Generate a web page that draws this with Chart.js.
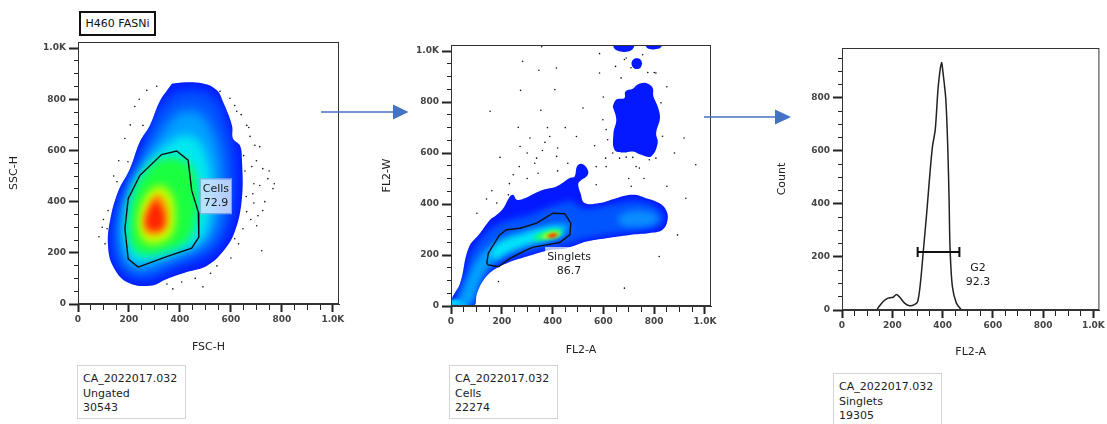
<!DOCTYPE html>
<html>
<head>
<meta charset="utf-8">
<script src="https://cdn.jsdelivr.net/npm/chart.js@4.4.1/dist/chart.umd.min.js"></script>
<style>
  body { margin:0; background:#fff; width:1107px; height:424px; overflow:hidden; position:relative; font-family:"DejaVu Sans", sans-serif; }
  canvas { position:absolute; }
  .info { position:absolute; width:109px; border:1px solid #d4d4d4; background:#fff; font-size:11px; line-height:14.5px; color:#222; padding:6px 0 0 5px; box-sizing:border-box; }
  .title { position:absolute; left:79px; top:11px; width:77px; height:25px; border:2px solid #111; box-sizing:border-box; font-size:11px; line-height:21px; text-align:center; color:#111; }
  svg { position:absolute; left:0; top:0; }
</style>
</head>
<body>
<div class="title">H460 FASNi</div>
<canvas id="c1" width="349" height="322" style="left:0px;top:32px"></canvas>
<canvas id="c2" width="351" height="322" style="left:370px;top:35px"></canvas>
<canvas id="c3" width="342" height="321" style="left:765px;top:38px"></canvas>
<div class="info" style="left:77px;top:365px;height:54px">CA_2022017.032<br>Ungated<br>30543</div>
<div class="info" style="left:449px;top:365px;height:54px">CA_2022017.032<br>Cells<br>22274</div>
<div class="info" style="left:833px;top:373px;height:56px">CA_2022017.032<br>Singlets<br>19305</div>
<svg width="1107" height="424">
  <line x1="321" y1="112" x2="395" y2="112" stroke="#4472c4" stroke-width="1.5"/>
  <polygon points="393,104.6 408.5,112 393,119.4" fill="#4472c4"/>
  <line x1="704" y1="117" x2="777" y2="117" stroke="#4472c4" stroke-width="1.5"/>
  <polygon points="775,109.5 791,117 775,124.5" fill="#4472c4"/>
</svg>
<script>
// ---- plot 1: FSC-H vs SSC-H (ungated), density levels outer -> core
const fscOuter = [[361,851],[372,862],[490,862],[545,835],[568,792],[604,698],[608,647],[635,620],[643,568],[643,412],[615,282],[568,204],[505,149],[427,125],[349,98],[282,71],[192,86],[137,149],[118,227],[125,321],[157,439],[204,529],[243,635],[282,698],[321,792]];
const fscL1 = [[380,830],[480,835],[550,790],[585,690],[610,600],[615,450],[590,300],[545,220],[470,170],[380,140],[290,100],[205,105],[150,160],[135,250],[145,340],[178,440],[225,540],[265,640],[305,745]];
const fscL2 = [[390,750],[470,750],[525,680],[555,580],[565,440],[545,310],[500,235],[420,195],[330,160],[250,130],[190,160],[165,250],[170,350],[200,450],[250,550],[315,655]];
const fscL3 = [[400,660],[460,650],[505,570],[522,450],[512,320],[472,240],[380,198],[290,172],[225,165],[190,225],[185,330],[205,430],[250,520],[325,605]];
const fscL4 = [[380,575],[440,545],[468,440],[462,320],[422,240],[340,205],[260,192],[210,228],[200,320],[215,420],[255,505],[318,565]];
const fscL5 = [[330,465],[368,428],[382,350],[368,272],[320,238],[268,238],[240,280],[240,360],[262,418],[296,455]];
const fscL6 = [[318,432],[346,396],[355,340],[345,290],[308,270],[268,276],[255,312],[262,360],[282,398],[300,424]];
const fscL7 = [[304,408],[326,376],[338,332],[328,296],[300,288],[274,298],[268,332],[279,362],[292,388]];
const cellsGate = [[236,144],[197,176],[184,294],[197,412],[243,503],[328,584],[387,598],[432,562],[446,444],[472,359],[474,261],[446,218],[348,185],[236,144]];
const fscDots = [[623,753],[662,698],[670,690],[694,620],[713,615],[650,580],[682,537],[725,529],[745,490],[713,463],[765,451],[686,431],[733,400],[662,361],[706,345],[647,294],[701,306],[615,255],[721,208],[545,149],[407,86],[372,59],[490,67],[349,78],[270,835],[223,772],[255,698],[184,647],[196,556],[153,478],[118,365],[114,294],[82,263],[106,235],[309,851],[557,831],[596,804],[615,776],[655,520],[690,470],[660,420],[640,740],[675,655],[700,560],[750,520],[770,470],[690,395],[725,365],[678,330],[630,235],[600,180],[520,120],[460,100],[240,800],[205,700],[160,560],[140,500],[100,330],[95,300]];

// ---- plot 2: FL2-A vs FL2-W (Cells)
const flOuter = [[0,0],[4,30],[36,89],[69,227],[115,286],[154,338],[180,358],[206,384],[232,430],[245,436],[259,417],[291,423],[324,439],[363,456],[415,469],[468,502],[487,508],[496,547],[513,558],[535,541],[539,515],[507,489],[501,476],[510,443],[526,404],[585,404],[651,423],[716,436],[768,423],[820,404],[847,377],[853,338],[833,299],[781,286],[703,279],[611,266],[533,253],[455,227],[389,220],[298,194],[220,168],[167,141],[128,102],[102,50],[89,0]];
const flL1 = [[5,0],[22,50],[55,130],[80,210],[120,265],[165,308],[230,338],[300,355],[370,382],[430,402],[470,412],[490,402],[520,382],[580,388],[650,402],[720,412],[790,398],[833,362],[835,330],[805,310],[740,297],[680,289],[600,277],[520,263],[445,238],[385,229],[300,206],[225,180],[175,155],[140,122],[115,82],[100,42],[80,0]];
const flL2 = [[20,0],[40,45],[70,120],[105,185],[150,232],[210,268],[290,292],[370,312],[440,325],[470,315],[455,290],[400,265],[330,245],[260,222],[200,196],[160,165],[140,140],[118,100],[102,60],[88,20],[68,0]];
const flL2b = [[650,345],[700,370],[770,372],[815,350],[805,325],[750,312],[680,315]];
const flL3 = [[155,200],[180,238],[225,262],[285,280],[345,298],[405,310],[440,302],[432,282],[385,266],[322,250],[262,230],[212,208],[178,185]];
const flL4 = [[320,268],[360,288],[410,300],[440,292],[425,276],[380,266],[340,258]];
const flL5 = [[355,273],[395,288],[428,288],[420,276],[390,268],[362,266]];
const flL6 = [[378,275],[402,284],[420,282],[410,272],[388,269]];
const flCorner = [[0,0],[0,22],[30,25],[55,20],[60,0]];
const flBlob = [[637,783],[651,810],[683,816],[687,842],[716,852],[735,869],[768,875],[794,856],[797,823],[814,783],[823,738],[808,679],[814,639],[788,587],[749,593],[716,606],[677,602],[644,613],[640,679],[651,731]];
const flSpot = [[753,951],[747,966],[732,972],[717,966],[711,951],[717,936],[732,930],[747,936]];
const flTopA = [[637,1040],[642,1012],[660,1000],[685,997],[708,1002],[720,1015],[724,1040]];
const flTopB = [[762,1040],[770,1015],[788,1007],[810,1008],[828,1016],[833,1040]];
const singletsGate = [[141,168],[147,207],[191,279],[219,299],[272,305],[337,325],[402,364],[448,362],[472,325],[468,279],[428,249],[376,240],[324,231],[298,220],[232,187],[187,154],[147,161],[141,168]];
const flDots = [[357,1017],[585,990],[282,960],[690,973],[755,986],[346,925],[415,934],[585,914],[670,895],[807,914],[274,846],[409,849],[154,764],[354,768],[520,777],[265,701],[389,665],[311,659],[494,665],[566,629],[370,642],[193,583],[272,626],[337,580],[416,587],[609,580],[269,547],[245,515],[343,521],[161,452],[226,436],[102,364],[180,404],[572,547],[572,476],[710,470],[925,423],[964,554],[918,659],[892,279],[820,194],[683,70],[187,96],[683,967],[709,935],[775,916],[801,916],[648,940],[598,731],[611,692],[617,652],[833,666],[827,797],[637,600],[664,580],[690,584],[716,583],[781,574],[807,580],[611,547],[729,547],[742,541],[850,860],[600,820],[300,600],[330,560],[360,610],[420,620],[450,700],[380,700],[300,500],[420,530],[460,560],[230,480],[140,420],[700,500],[760,500],[850,470],[880,600]];

// ---- plot 3: FL2-A histogram (Singlets)
const histX = [138,148,164,183,203,216,229,249,269,288,301,312,324,337,350,360,371,383,396,402,413,421,426,430,439,455,476];
const histY = [0,14,32,45,48,58,49,26,16,20,32,102,228,366,517,617,680,844,932,894,794,605,416,228,89,26,0];
const g2Range = [301, 467];
const g2Level = 219;

const pts = a => a.map(p => ({x: p[0], y: p[1]}));

Chart.defaults.font.family = "'DejaVu Sans', sans-serif";
Chart.defaults.color = '#3a3a3a';

function level(poly, color, blur, order, clipTo) {
  return { data: pts(poly.concat([poly[0]])), showLine: true, borderWidth: 0, pointRadius: 0,
           tension: 0.4, blobColor: color, blur: blur, order: order, clipTo: clipTo };
}
function gate(poly) {
  return { data: pts(poly), showLine: true, borderColor: '#111', borderWidth: 1.4, pointRadius: 0, tension: 0, order: 1 };
}
function dots(list) {
  return { data: pts(list), showLine: false, pointRadius: 0.8, pointBorderWidth: 0, backgroundColor: '#111', order: 0 };
}

// fills the smoothed polygon of a level dataset, blurred and kept inside its outer level
const blobFill = {
  id: 'blobFill',
  beforeDatasetDraw(chart, args) {
    const ds = chart.data.datasets[args.index];
    if (!ds.blobColor) return;
    const line = args.meta.dataset;
    const ctx = chart.ctx, a = chart.chartArea;
    line.updateControlPoints(a, 'x');
    ctx.save();
    ctx.beginPath();
    ctx.rect(a.left, a.top, a.right - a.left, a.bottom - a.top);
    ctx.clip();
    if (ds.clipTo !== undefined) {
      const outer = chart.getDatasetMeta(ds.clipTo).dataset;
      outer.updateControlPoints(a, 'x');
      ctx.beginPath();
      outer.path(ctx);
      ctx.closePath();
      ctx.clip();
    }
    ctx.filter = ds.blur ? 'blur(' + ds.blur + 'px)' : 'none';
    ctx.fillStyle = ds.blobColor;
    ctx.beginPath();
    line.path(ctx);
    ctx.closePath();
    ctx.fill();
    ctx.restore();
  }
};

const frame = {
  id: 'frame',
  afterDatasetsDraw(chart) {
    const {ctx, chartArea: a} = chart;
    ctx.save();
    ctx.strokeStyle = '#333';
    ctx.lineWidth = 1;
    ctx.strokeRect(a.left + 0.5, a.top + 0.5, a.right - a.left - 1, a.bottom - a.top - 1);
    ctx.restore();
  }
};

function gateText(items) {
  return {
    id: 'gateText',
    afterDatasetsDraw(chart) {
      const {ctx, scales: {x, y}} = chart;
      items.forEach(it => {
        const px = x.getPixelForValue(it.at[0]), py = y.getPixelForValue(it.at[1]);
        const lh = 14;
        ctx.save();
        ctx.font = "11px 'DejaVu Sans'";
        const w = Math.max(...it.lines.map(t => ctx.measureText(t).width));
        const h = lh * it.lines.length;
        if (it.bg) {
          ctx.fillStyle = it.bg;
          ctx.fillRect(px - w / 2 - 2, py - h / 2 - 3, w + 4, h + 6);
          if (it.edge) {
            ctx.strokeStyle = it.edge;
            ctx.strokeRect(px - w / 2 - 2.5, py - h / 2 - 3.5, w + 5, h + 7);
          }
        }
        ctx.fillStyle = '#1a1a1a';
        ctx.textAlign = 'center';
        ctx.textBaseline = 'middle';
        it.lines.forEach((t, i) => ctx.fillText(t, px, py - h / 2 + lh * (i + 0.5)));
        ctx.restore();
      });
    }
  };
}

const isMajor = c => c.tick && c.tick.value % 200 === 0;
function axis(max, title, size, pad, isY) {
  return {
    type: 'linear', min: 0, max: max,
    afterFit: s => { if (isY) s.width = size; else s.height = size; },
    ticks: {
      stepSize: 50, autoSkip: false, includeBounds: false, maxRotation: 0,
      padding: isY ? 3 : 2, color: '#444', font: {size: 9, weight: 'bold'},
      callback: v => v % 200 === 0 ? (v >= 1000 ? (v / 1000).toFixed(1) + 'K' : String(v)) : ''
    },
    grid: {
      drawOnChartArea: false, tickLength: isY ? 9 : 8, tickColor: '#222',
      tickWidth: c => isMajor(c) ? 2 : 1,
      tickBorderDash: c => isMajor(c) ? [] : (isY ? [0, 5, 4, 50] : [5, 50])
    },
    border: {display: true, color: '#333', width: 1},
    title: {display: true, text: title, color: '#222', font: {size: 11},
            padding: isY ? {top: pad, bottom: 0} : {top: 0, bottom: 0}}
  };
}

function baseOptions(xs, ys, padRight) {
  return {
    responsive: false, animation: false, events: [],
    layout: {padding: {top: 10, right: padRight, left: 0, bottom: 0}},
    plugins: {legend: {display: false}, tooltip: {enabled: false}},
    scales: {x: xs, y: ys}
  };
}

// === PLOT 1 ===
new Chart(document.getElementById('c1'), {
  type: 'scatter',
  data: { datasets: [
    dots(fscDots),
    gate(cellsGate),
    level(fscL7, '#ff2400', 3, 2, 9),
    level(fscL6, '#ff9800', 3, 3, 9),
    level(fscL5, '#c8ff00', 4, 4, 9),
    level(fscL4, '#1aff40', 5, 5, 9),
    level(fscL3, '#00e8f0', 5, 6, 9),
    level(fscL2, '#00a2ff', 6, 7, 9),
    level(fscL1, '#0055ff', 6, 8, 9),
    level(fscOuter, '#0419ff', 0, 9)
  ]},
  options: baseOptions(axis(1024, 'FSC-H', 50, 0, false), axis(1024, 'SSC-H', 78, 8, true), 10),
  plugins: [blobFill, frame, gateText([
    {at: [541, 421], lines: ['Cells', '72.9'], bg: 'rgba(214,226,255,0.85)', edge: 'rgba(150,170,225,0.9)'}
  ])]
});

// === PLOT 2 ===
new Chart(document.getElementById('c2'), {
  type: 'scatter',
  data: { datasets: [
    dots(flDots),
    gate(singletsGate),
    level(flL6, '#ff2000', 1.5, 2, 10),
    level(flL5, '#e0ff00', 2, 3, 10),
    level(flL4, '#10ff70', 2, 4, 10),
    level(flL3, '#00e8f8', 3, 5, 10),
    level(flL2, '#00a0ff', 3, 6, 10),
    level(flL2b, '#0a8cff', 3, 6, 10),
    level(flCorner, '#00d8ff', 1, 6, 10),
    level(flL1, '#0055ff', 3, 7, 10),
    level(flOuter, '#0419ff', 0, 8),
    level(flBlob, '#0419ff', 0, 8),
    level(flSpot, '#0419ff', 0, 8),
    level(flTopA, '#0419ff', 0, 8),
    level(flTopB, '#0419ff', 0, 8)
  ]},
  options: baseOptions(axis(1024, 'FL2-A', 51, 0, false), axis(1024, 'FL2-W', 81, 11, true), 10),
  plugins: [blobFill, frame, gateText([
    {at: [465, 165], lines: ['Singlets', '86.7'], bg: 'rgba(255,255,255,0.7)'}
  ])]
});

// === PLOT 3 ===
new Chart(document.getElementById('c3'), {
  type: 'scatter',
  data: { datasets: [
    { data: [{x: g2Range[0], y: g2Level}, {x: g2Range[1], y: g2Level}], showLine: true,
      borderColor: '#111', borderWidth: 2, pointStyle: 'line', rotation: 90, pointRadius: 5,
      pointBorderWidth: 2, pointBorderColor: '#111', order: 0 },
    { data: histX.map((v, i) => ({x: v, y: histY[i]})), showLine: true, borderColor: '#222',
      borderWidth: 1.5, pointRadius: 0, tension: 0.3, order: 1 }
  ]},
  options: baseOptions(axis(1024, 'FL2-A', 49, 0, false), axis(988, 'Count', 77, 11, true), 5),
  plugins: [frame, gateText([{at: [541, 130], lines: ['G2', '92.3']}])]
});
</script>
</body>
</html>
